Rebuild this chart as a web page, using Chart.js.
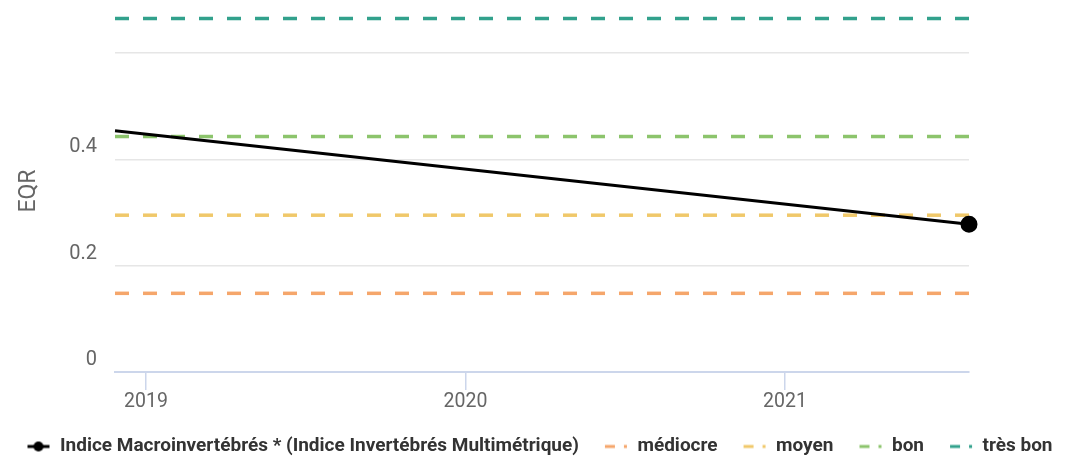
<!DOCTYPE html>
<html>
<head>
<meta charset="utf-8">
<script src="https://cdn.jsdelivr.net/npm/chart.js@4/dist/chart.umd.min.js"></script>
<style>
  html, body { margin: 0; padding: 0; background: #ffffff; }
  #wrap { width: 1079px; height: 458px; position: relative; }
</style>
</head>
<body>
<div id="wrap"><canvas id="chart"></canvas></div>
<script>
// Sampling dates (decimal years) and EQR values of the I2M2 index
const sampleYears = [2018.903, 2021.576];
const eqrValues = [0.454, 0.278];

// Quality class thresholds (EQR)
const classNames = ['médiocre', 'moyen', 'bon', 'très bon'];
const classThresholds = [0.148, 0.295, 0.443, 0.665];
const classColors = ['#f5a66b', '#f0c86a', '#8cc46c', '#32a18c'];

// Axis ticks
const yearTicks = [2019, 2020, 2021];
const eqrTicks = [0, 0.2, 0.4, 0.6];
const eqrLabelled = [0, 0.2, 0.4];

const seriesName = 'Indice Macroinvertébrés * (Indice Invertébrés Multimétrique)';
const axisMin = sampleYears[0];
const axisMax = sampleYears[sampleYears.length - 1];

// Legend symbols drawn on small canvases
function lineMarkerSymbol() {
  const c = document.createElement('canvas');
  c.width = 24; c.height = 14;
  const g = c.getContext('2d');
  g.strokeStyle = '#000'; g.lineWidth = 3;
  g.beginPath(); g.moveTo(1, 7); g.lineTo(23, 7); g.stroke();
  g.fillStyle = '#000';
  g.beginPath(); g.arc(12, 7, 5, 0, Math.PI * 2); g.fill();
  return c;
}
function dashSymbol(color) {
  const c = document.createElement('canvas');
  c.width = 24; c.height = 14;
  const g = c.getContext('2d');
  g.fillStyle = color;
  g.fillRect(1, 5.5, 10, 3);
  g.fillRect(20, 5.5, 3, 3);
  return c;
}

const datasets = [{
  label: seriesName,
  data: sampleYears.map((x, i) => ({ x, y: eqrValues[i] })),
  borderColor: '#000000',
  backgroundColor: '#000000',
  borderWidth: 3,
  pointRadius: sampleYears.map((_, i) => i === sampleYears.length - 1 ? 7 : 0),
  pointHoverRadius: 7,
  clip: false,
  legendSymbol: lineMarkerSymbol()
}];
classNames.forEach((name, i) => {
  datasets.push({
    label: name,
    data: [{ x: axisMin, y: classThresholds[i] }, { x: axisMax, y: classThresholds[i] }],
    borderColor: classColors[i],
    backgroundColor: classColors[i],
    borderWidth: 3.5,
    borderDash: [14, 14],
    pointRadius: 0,
    legendSymbol: dashSymbol(classColors[i])
  });
});

new Chart(document.getElementById('chart'), {
  type: 'line',
  data: { datasets },
  options: {
    responsive: true,
    maintainAspectRatio: false,
    animation: false,
    layout: { padding: { left: 0, right: 0, top: 0, bottom: -8 } },
    plugins: {
      tooltip: { enabled: false },
      legend: {
        position: 'bottom',
        labels: {
          usePointStyle: true,
          pointStyleWidth: 24,
          padding: 25,
          color: '#333333',
          font: { family: 'Roboto', size: 19, weight: 'bold' },
          generateLabels(chart) {
            return chart.data.datasets.map((ds, i) => ({
              text: ds.label,
              pointStyle: ds.legendSymbol,
              fontColor: '#333333',
              strokeStyle: ds.borderColor,
              fillStyle: ds.borderColor,
              lineWidth: 0,
              hidden: false,
              datasetIndex: i
            }));
          }
        }
      }
    },
    scales: {
      x: {
        type: 'linear',
        min: axisMin,
        max: axisMax,
        afterBuildTicks(scale) { scale.ticks = yearTicks.map(v => ({ value: v })); },
        afterFit(scale) { scale.paddingLeft = 0; scale.paddingRight = 0; scale.height = 40; },
        border: { display: true, color: '#ccd6eb', width: 2 },
        grid: { drawOnChartArea: false, drawTicks: true, tickLength: 18, color: '#ccd6eb', lineWidth: 1.5 },
        ticks: {
          padding: 0,
          color: '#666666',
          font: { family: 'Roboto', size: 19.5 },
          maxRotation: 0,
          callback: v => String(v)
        }
      },
      y: {
        min: 0,
        max: 0.681,
        afterBuildTicks(scale) { scale.ticks = eqrTicks.map(v => ({ value: v })); },
        afterFit(scale) { scale.width = 115; scale.paddingTop = 0; scale.paddingBottom = 0; },
        border: { display: false },
        grid: {
          drawTicks: false,
          lineWidth: 1.5,
          color: ctx => (ctx.tick && ctx.tick.value === 0) ? 'rgba(0,0,0,0)' : '#e6e6e6'
        },
        title: {
          display: true,
          text: 'EQR',
          color: '#666666',
          font: { family: 'Roboto', size: 23 },
          padding: { top: 15, bottom: 0 }
        },
        ticks: {
          padding: 18,
          labelOffset: -12,
          color: '#666666',
          font: { family: 'Roboto', size: 20 },
          callback: v => eqrLabelled.some(l => Math.abs(l - v) < 1e-9) ? String(Math.round(v * 10) / 10) : ''
        }
      },
      // empty right-hand margin of the plot
      yMargin: {
        position: 'right',
        display: true,
        grid: { display: false },
        border: { display: false },
        ticks: { display: false },
        afterFit(scale) { scale.width = 110; scale.paddingTop = 0; scale.paddingBottom = 0; }
      }
    }
  }
});
</script>
</body>
</html>
